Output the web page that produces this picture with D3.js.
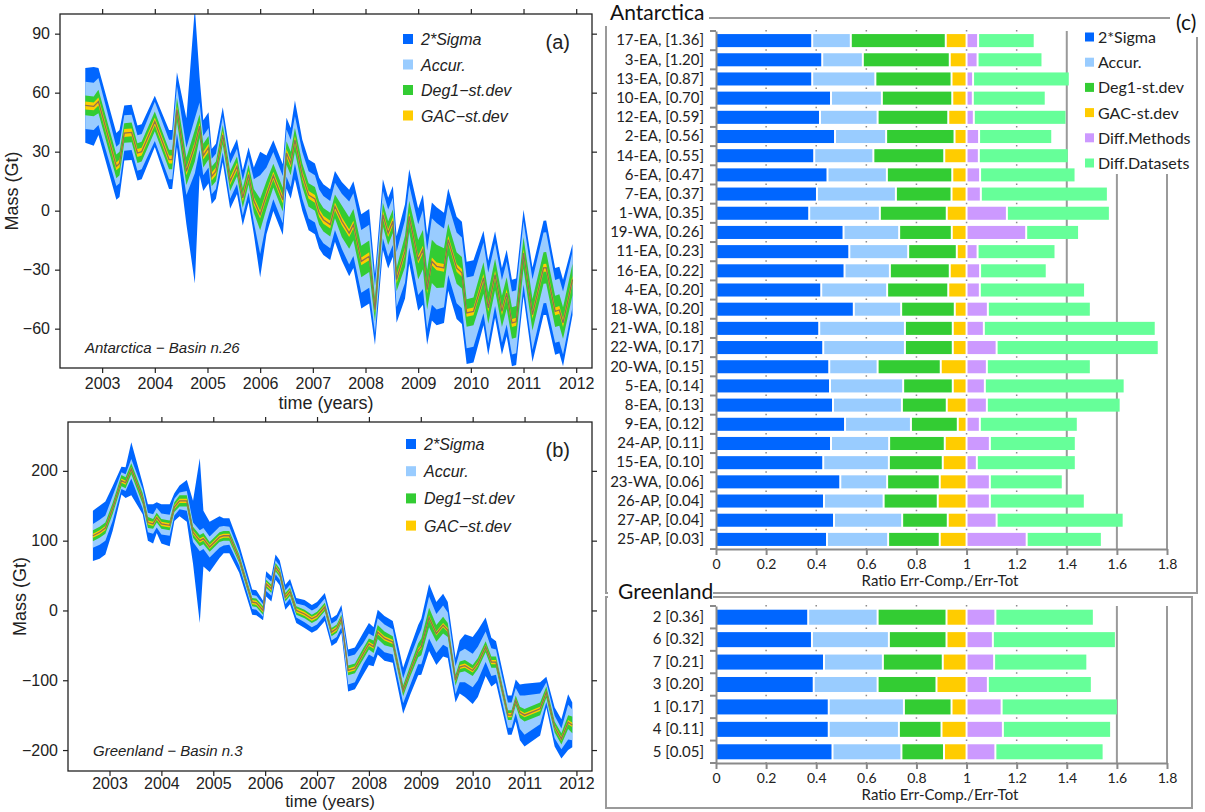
<!DOCTYPE html>
<html><head><meta charset="utf-8">
<script src="https://cdn.jsdelivr.net/npm/d3@7"></script>
<style>body{margin:0;background:#fff}svg{display:block}</style>
</head><body>
<svg id="fig" width="1205" height="812"></svg>
<script>
// ---------- time series: Antarctica basin 26 ----------
const aT    = [2002.68,2002.84,2002.93,2003.27,2003.33,2003.42,2003.56,2003.67,2003.75,2004.00,2004.27,2004.33,2004.42,2004.60,2004.76,2004.85,2004.92,2005.02,2005.08,2005.16,2005.29,2005.43,2005.56,2005.67,2005.78,2005.88,2006.00,2006.12,2006.25,2006.43,2006.50,2006.58,2006.66,2006.80,2006.92,2007.04,2007.12,2007.20,2007.33,2007.42,2007.55,2007.69,2007.77,2007.92,2008.07,2008.18,2008.33,2008.43,2008.52,2008.59,2008.75,2008.83,2009.00,2009.09,2009.17,2009.26,2009.35,2009.49,2009.57,2009.73,2009.83,2009.92,2010.05,2010.24,2010.33,2010.46,2010.59,2010.68,2010.78,2010.86,2011.00,2011.17,2011.38,2011.43,2011.60,2011.68,2011.75,2011.93];
const aMid  = [53.5,53,55.5,22.5,24,39.5,39.8,29.3,30,45.4,26,26,51.4,20,33,43,28,32,17.4,20,38.6,15,22.5,6.5,18.3,5,-2,8,17.8,5.6,29.3,24,36,18,8,6,-1.2,-4.6,-7.1,2.2,-5.4,-11.4,-7.1,-25.8,-23.2,-50.3,-2,-11.4,-5.4,-35,-20.7,-2.9,-24.9,-19.8,-40.2,-25.8,-28.3,-29.1,-14.7,-29.1,-31.6,-52,-51.2,-34.2,-49.5,-32.5,-51.2,-41.9,-57.1,-56.5,-21.5,-52.9,-29.1,-29,-51.2,-50.5,-57.1,-35];
const aGac  = [2,2,2,2,2,2,2,2,2,2,2,2,2,2,2,2,2,2,2,2,2,2,2,2,2,2,2,2,2,2,2,2,2,2,2,2,2,2,2,2,2,2,2,2,2,2,2,2,2,2,2,2,2,2,2,2,2,2,2,2,2,2,2,2,2,2,2,2,2,2,2,2,2,2,2,2,2,2];
const aDeg1 = [5,5,6,6,6,5,5,5,5,5,5,5,6,7,8,6,6,6,5,5,5,5,5,5,5,6,8,7,6,6,6,6,6,6,6,6,6,6,6,6,8,8,8,8,8,6,6,6,6,6,8,8,10,10,10,11,11,10,8,8,8,7,7,8,8,8,8,8,8,8,8,8,8,8,8,8,8,8];
const aAcc  = [12,12,12,10,10,9,9,9,9,10,10,10,12,12,14,12,10,10,9,9,9,9,9,9,9,11,20,14,12,12,12,12,12,12,12,12,12,12,12,12,14,16,16,16,16,12,12,12,12,14,16,16,18,20,20,22,22,20,18,18,18,18,18,18,18,16,16,16,16,16,16,18,18,18,16,16,16,14];
const aSig  = [19,20,17,17,17,14,14,14,14,13,15,15,19,27,70,25,18,18,14,14,14,14,14,14,14,17,32,20,18,18,18,18,20,18,18,18,18,18,18,18,20,22,22,24,24,18,18,18,18,22,24,24,26,28,28,30,30,28,26,26,26,26,26,24,24,22,22,22,22,22,22,24,24,24,22,22,22,18];

// ---------- time series: Greenland basin 3 ----------
const bT    = [2002.68,2002.81,2002.92,2003.06,2003.23,2003.31,2003.42,2003.64,2003.74,2003.84,2003.91,2004.00,2004.16,2004.25,2004.35,2004.49,2004.61,2004.74,2004.81,2004.93,2005.12,2005.20,2005.31,2005.50,2005.75,2005.83,2005.96,2006.02,2006.12,2006.20,2006.28,2006.39,2006.48,2006.60,2006.76,2006.90,2007.00,2007.15,2007.28,2007.38,2007.47,2007.60,2007.73,2007.89,2008.00,2008.09,2008.17,2008.30,2008.46,2008.66,2008.80,2008.95,2009.01,2009.16,2009.30,2009.43,2009.52,2009.67,2009.75,2009.85,2010.00,2010.10,2010.25,2010.36,2010.45,2010.68,2010.75,2010.83,2010.91,2011.00,2011.30,2011.42,2011.58,2011.71,2011.84,2011.92];
const bMid  = [107,112,118,146,186,183,203,160,126,124,133,124,122,148,157,157,112,100,103,91,105,107,107,74,12,11,0,38,31,62,54,19,27,0,-5,-12,-8,5,-31,-26,-12,-86,-83,-62,-48,-52,-31,-40,-45,-115,-86,-57,-52,-10,-33,-21,-28,-100,-81,-79,-86,-76,-52,-74,-74,-150,-150,-129,-146,-150,-141,-117,-167,-184,-160,-164];
const bGac  = [3,3,3,3,3,3,3,3,3,3,3,3,3,3,3,3,3,3,3,3,3,3,3,3,3,3,3,3,3,3,3,3,3,3,3,3,3,3,3,3,3,3,3,3,3,3,3,3,3,3,3,3,3,3,3,3,3,3,3,3,3,3,3,3,3,3,3,3,3,3,3,3,3,3,3,3];
const bDeg1 = [8,8,8,8,8,8,8,8,8,7,7,7,7,7,8,8,8,8,8,7,7,7,7,6,6,6,6,6,6,6,6,6,6,6,6,6,6,6,6,6,6,7,7,8,8,9,10,10,8,8,8,10,12,14,12,12,10,8,8,8,8,8,8,8,8,7,7,7,8,9,9,8,8,8,10,12];
const bAcc  = [17,18,18,18,12,12,14,14,14,14,14,15,15,12,12,14,14,15,15,15,15,14,13,10,10,10,9,10,10,10,10,10,10,10,12,12,12,12,12,12,12,20,20,15,15,15,20,20,18,18,20,20,25,30,28,28,25,20,22,24,24,24,22,20,18,18,18,18,24,28,22,14,16,15,25,22];
const bSig  = [36,38,38,32,20,22,38,22,26,28,22,28,30,20,22,30,45,118,40,36,30,25,25,20,18,18,14,18,18,18,18,18,18,18,20,20,20,20,20,20,20,30,30,30,30,28,32,32,30,33,34,36,40,48,45,45,40,32,38,45,48,48,42,35,30,28,28,30,40,45,38,22,28,28,40,32];

const yearTicks = [2003,2004,2005,2006,2007,2008,2009,2010,2011,2012];
const aTicks = [-60,-30,0,30,60,90];
const bTicks = [-200,-100,0,100,200];
const bandLabels = ["2*Sigma","Accur.","Deg1\u2212st.dev","GAC\u2212st.dev"];

// ---------- error-budget bars ----------
const barKeys = ["2*Sigma","Accur.","Deg1-st.dev","GAC-st.dev","Diff.Methods","Diff.Datasets"];
const antNames = ["17-EA, [1.36]","3-EA, [1.20]","13-EA, [0.87]","10-EA, [0.70]","12-EA, [0.59]","2-EA, [0.56]","14-EA, [0.55]","6-EA, [0.47]","7-EA, [0.37]","1-WA, [0.35]","19-WA, [0.26]","11-EA, [0.23]","16-EA, [0.22]","4-EA, [0.20]","18-WA, [0.20]","21-WA, [0.18]","22-WA, [0.17]","20-WA, [0.15]","5-EA, [0.14]","8-EA, [0.13]","9-EA, [0.12]","24-AP, [0.11]","15-EA, [0.10]","23-WA, [0.06]","26-AP, [0.04]","27-AP, [0.04]","25-AP, [0.03]"];
const antSigma    = [.384,.424,.384,.459,.415,.475,.392,.445,.403,.372,.509,.532,.513,.420,.550,.412,.428,.452,.455,.467,.515,.459,.428,.496,.431,.471,.443];
const antAccur    = [.154,.162,.252,.203,.230,.204,.236,.237,.315,.282,.222,.235,.181,.263,.189,.342,.326,.193,.292,.275,.263,.232,.262,.187,.238,.272,.244];
const antDeg1     = [.379,.347,.304,.281,.282,.273,.283,.261,.222,.267,.210,.194,.239,.244,.214,.191,.191,.252,.198,.179,.187,.222,.215,.210,.216,.182,.206];
const antGac      = [.083,.067,.060,.057,.073,.048,.089,.057,.060,.079,.059,.039,.067,.073,.047,.055,.055,.103,.055,.079,.035,.087,.095,.107,.115,.075,.107];
const antMethods  = [.046,.044,.026,.025,.029,.050,.049,.054,.057,.161,.238,.044,.054,.053,.085,.069,.120,.081,.073,.081,.053,.093,.041,.093,.093,.120,.240];
const antDatasets = [.226,.259,.386,.291,.370,.292,.359,.381,.507,.411,.211,.311,.266,.420,.411,.686,.647,.415,.558,.534,.391,.343,.395,.291,.379,.507,.300];

const grlNames = ["2 [0.36]","6 [0.32]","7 [0.21]","3 [0.20]","1 [0.17]","4 [0.11]","5 [0.05]"];
const grlSigma    = [.368,.383,.431,.390,.450,.450,.465];
const grlAccur    = [.277,.307,.235,.255,.300,.280,.275];
const grlDeg1     = [.275,.230,.239,.235,.190,.170,.170];
const grlGac      = [.080,.080,.095,.120,.060,.100,.090];
const grlMethods  = [.115,.105,.110,.085,.140,.145,.115];
const grlDatasets = [.393,.491,.372,.415,.464,.432,.432];

const ratioTicks = [0,0.2,0.4,0.6,0.8,1,1.2,1.4,1.6,1.8];

const colors = ["#0066ff","#99ccff","#33cc33","#ffcc00","#cc99ff","#66ff99"];
const midLine = "#8f7050";

const svg = d3.select("#fig");
const SANS = "'Liberation Sans', Arial, sans-serif";
const CAL = "Lato, 'Open Sans', sans-serif";

// ---------- one time-series panel ----------
function seriesPanel(o) {
  const x = d3.scaleLinear([2002.2, 2012.3], [o.left, o.right]);
  const y = d3.scaleLinear(o.yDomain, [o.bottom, o.top]);
  const pts = o.t.map((t, i) => ({t, m: o.mid[i], w: [o.sig[i], o.acc[i], o.deg1[i], o.gac[i]]}));
  const g = svg.append("g");
  const clipId = "clip" + o.id;
  svg.append("clipPath").attr("id", clipId).append("rect")
    .attr("x", o.left).attr("y", o.top).attr("width", o.right - o.left).attr("height", o.bottom - o.top);
  const plot = g.append("g").attr("clip-path", `url(#${clipId})`);
  [0,1,2,3].forEach(k => {
    const area = d3.area().x(d => x(d.t)).y0(d => y(d.m - d.w[k])).y1(d => y(d.m + d.w[k]));
    plot.append("path").datum(pts).attr("d", area).attr("fill", colors[k]);
  });
  plot.append("path").datum(pts)
    .attr("d", d3.line().x(d => x(d.t)).y(d => y(d.m)))
    .attr("fill", "none").attr("stroke", midLine).attr("stroke-width", 1.3);

  const axStyle = sel => {
    sel.selectAll("path.domain").remove();
    sel.selectAll("line").attr("stroke", "#222").attr("stroke-width", 1.2);
    sel.selectAll("text").attr("font-family", SANS).attr("font-size", 16).attr("fill", "#222");
  };
  g.append("g").attr("transform", `translate(0,${o.bottom})`)
    .call(d3.axisBottom(x).tickValues(yearTicks).tickFormat(d3.format("d")).tickSize(5).tickPadding(o.xPad)).call(axStyle);
  g.append("g").attr("transform", `translate(0,${o.top})`)
    .call(d3.axisTop(x).tickValues(yearTicks).tickFormat("").tickSize(5)).call(axStyle);
  g.append("g").attr("transform", `translate(${o.left},0)`)
    .call(d3.axisLeft(y).tickValues(o.yTicks).tickSize(5).tickPadding(5)).call(axStyle);
  g.append("g").attr("transform", `translate(${o.right},0)`)
    .call(d3.axisRight(y).tickValues(o.yTicks).tickFormat("").tickSize(5)).call(axStyle);
  g.append("rect").attr("x", o.left).attr("y", o.top).attr("width", o.right - o.left).attr("height", o.bottom - o.top)
    .attr("fill", "none").attr("stroke", "#222").attr("stroke-width", 1.3);

  // legend
  bandLabels.forEach((lab, i) => {
    const ly = o.legY + i * o.legDy;
    g.append("rect").attr("x", o.legX).attr("y", ly - 5).attr("width", 10).attr("height", 10).attr("fill", colors[i]);
    g.append("text").attr("x", o.legX + 18).attr("y", ly + 6).text(lab)
      .attr("font-family", SANS).attr("font-size", 16).attr("font-style", "italic").attr("fill", "#222");
  });
  g.append("text").attr("x", o.right - 22).attr("y", o.top + 35).attr("text-anchor", "end").text(o.tag)
    .attr("font-family", SANS).attr("font-size", 20).attr("fill", "#222");
  g.append("text").attr("x", o.left + 25).attr("y", o.bottom - 15).text(o.title)
    .attr("font-family", SANS).attr("font-size", 15).attr("font-style", "italic").attr("fill", "#222");
  g.append("text").attr("x", (o.left + o.right) / 2).attr("y", o.bottom + o.xTitleDy).attr("text-anchor", "middle")
    .text("time (years)").attr("font-family", SANS).attr("font-size", o.xTitleSize).attr("fill", "#222");
  g.append("text").attr("transform", `translate(${o.left - 42},${(o.top + o.bottom) / 2}) rotate(-90)`)
    .attr("text-anchor", "middle").text("Mass (Gt)").attr("font-family", SANS).attr("font-size", 18).attr("fill", "#222");
}

seriesPanel({id: "a", left: 60, right: 592, top: 14, bottom: 368, yDomain: [-80, 100], yTicks: aTicks,
  t: aT, mid: aMid, gac: aGac, deg1: aDeg1, acc: aAcc, sig: aSig, xPad: 5, xTitleDy: 41, xTitleSize: 18,
  legX: 403, legY: 39, legDy: 25.5, tag: "(a)", title: "Antarctica \u2212 Basin n.26"});
seriesPanel({id: "b", left: 68, right: 592, top: 422, bottom: 771, yDomain: [-230, 270], yTicks: bTicks,
  t: bT, mid: bMid, gac: bGac, deg1: bDeg1, acc: bAcc, sig: bSig, xPad: 2, xTitleDy: 36, xTitleSize: 17,
  legX: 406, legY: 444, legDy: 27.2, tag: "(b)", title: "Greenland \u2212 Basin n.3"});

// ---------- bar panel ----------
const xr = d3.scaleLinear([0, 1.8], [716, 1167]);
const FRAME = "#9a9a9a";

// frames
svg.append("rect").attr("x", 606).attr("y", 18).attr("width", 591).attr("height", 575)
  .attr("fill", "none").attr("stroke", FRAME).attr("stroke-width", 2);
svg.append("rect").attr("x", 606).attr("y", 597).attr("width", 586).attr("height", 211)
  .attr("fill", "none").attr("stroke", FRAME).attr("stroke-width", 2);

function barBlock(o) {
  const g = svg.append("g");
  const y = d3.scaleBand(o.names, [o.top, o.bottom]).paddingInner(o.pad).paddingOuter(o.pad / 2);
  const rows = o.names.map((n, i) => {
    const r = {name: n};
    o.series.forEach((s, k) => r[barKeys[k]] = s[i]);
    return r;
  });
  const stacked = d3.stack().keys(barKeys)(rows);

  // grid: dotted at inner ticks, solid at the far ticks
  const step = y.step();
  ratioTicks.slice(1).forEach(v => {
    if (o.solid.includes(v)) {
      g.append("line").attr("x1", xr(v)).attr("x2", xr(v)).attr("y1", o.top).attr("y2", o.bottom)
        .attr("stroke", "#9a9a9a").attr("stroke-width", 2);
    } else {
      g.append("line").attr("x1", xr(v)).attr("x2", xr(v)).attr("y1", o.top - 1).attr("y2", o.bottom)
        .attr("stroke", "#8a8a8a").attr("stroke-width", 1.5).attr("stroke-dasharray", `1.5,${step - 1.5}`);
    }
  });
  if (o.legend) o.legend(g);

  g.selectAll("g.layer").data(stacked).join("g").attr("fill", (d, i) => colors[i])
    .selectAll("rect").data(d => d).join("rect")
    .attr("x", d => xr(d[0]) + 1).attr("width", d => Math.max(0, xr(d[1]) - xr(d[0]) - 2))
    .attr("y", d => y(d.data.name)).attr("height", y.bandwidth());

  // axes
  const ya = g.append("g").attr("transform", `translate(${xr(0)},0)`)
    .call(d3.axisLeft(y).tickSize(0).tickPadding(12));
  ya.select("path.domain").attr("stroke", "#8a8a8a").attr("stroke-width", 2);
  ya.selectAll("text").attr("font-family", CAL).attr("font-size", 15).attr("fill", "#222");
  // category separators on the value axis
  g.selectAll("line.sep").data(d3.range(o.names.length + 1)).join("line")
    .attr("x1", xr(0) - 6).attr("x2", xr(0))
    .attr("y1", i => o.top + i * step).attr("y2", i => o.top + i * step)
    .attr("stroke", "#8a8a8a").attr("stroke-width", 2);
  const xa = g.append("g").attr("transform", `translate(0,${o.bottom})`)
    .call(d3.axisBottom(xr).tickValues(ratioTicks).tickFormat(d => d === 0 || d === 1 ? d3.format("d")(d) : d3.format(".1f")(d)).tickSize(6).tickSizeOuter(0).tickPadding(4));
  xa.select("path.domain").attr("stroke", "#8a8a8a").attr("stroke-width", 2);
  xa.selectAll("line").attr("stroke", "#8a8a8a").attr("stroke-width", 2);
  xa.selectAll("text").attr("font-family", CAL).attr("font-size", 14).attr("fill", "#222");
  g.append("text").attr("x", 940).attr("y", o.bottom + 37).attr("text-anchor", "middle")
    .text("Ratio Err-Comp./Err-Tot").attr("font-family", CAL).attr("font-size", 15).attr("fill", "#222");
}

barBlock({names: antNames, series: [antSigma, antAccur, antDeg1, antGac, antMethods, antDatasets],
  top: 31, bottom: 549, pad: 0.32, solid: [1.4, 1.6, 1.8],
  legend: g => {
    g.append("rect").attr("x", 1078).attr("y", 26).attr("width", 118).attr("height", 148).attr("fill", "#fff");
    barKeys.forEach((k, i) => {
      const ly = 37 + i * 25.2;
      g.append("rect").attr("x", 1085).attr("y", ly - 4.5).attr("width", 9).attr("height", 9).attr("fill", colors[i]);
      g.append("text").attr("x", 1098).attr("y", ly + 6).text(k)
        .attr("font-family", CAL).attr("font-size", 16).attr("fill", "#222");
    });
  }});
barBlock({names: grlNames, series: [grlSigma, grlAccur, grlDeg1, grlGac, grlMethods, grlDatasets],
  top: 606, bottom: 763, pad: 0.33, solid: [1.6, 1.8]});

// headers with white backing over the frame lines
function header(x, y, w, h, text, size, tx, ty) {
  svg.append("rect").attr("x", x).attr("y", y).attr("width", w).attr("height", h).attr("fill", "#fff");
  svg.append("text").attr("x", tx).attr("y", ty).text(text)
    .attr("font-family", CAL).attr("font-size", size).attr("fill", "#111");
}
header(600, 0, 109, 26, "Antarctica", 21, 610, 20);
header(1170, 0, 35, 37, "(c)", 21, 1176, 30);
header(608, 582, 105, 20, "Greenland", 21, 618, 599);
</script>
</body></html>
